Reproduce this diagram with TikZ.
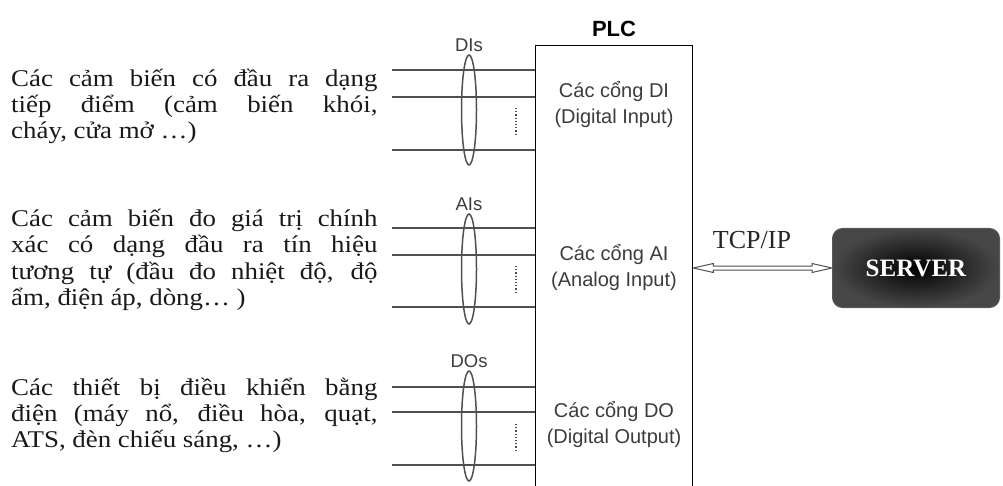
\documentclass[tikz,border=0pt]{standalone}
\usepackage{fontspec}
\setmainfont{Liberation Serif}
\setsansfont{Liberation Sans}
\usetikzlibrary{positioning,shapes.geometric,calc}

\definecolor{wiregray}{HTML}{505050}
\definecolor{portgray}{HTML}{3C3C3C}
\newcommand{\descfont}{\fontsize{24}{26}\selectfont\hyphenpenalty=10000 }

\begin{document}
\begin{tikzpicture}[x=1pt,y=-1pt,
  busline/.style={draw=wiregray, line width=1.6pt},
  bundle/.style={draw=wiregray, line width=1.5pt, ellipse, minimum width=15pt, minimum height=110pt, inner sep=0pt},
  buslabel/.style={font=\sffamily\fontsize{18.5}{19}\selectfont, text=portgray, inner sep=1pt},
  porttxt/.style={font=\sffamily\fontsize{20}{26}\selectfont, text=portgray, align=center},
  desc/.style={font=\descfont, text=black!90, text width=327pt, align=justify, inner sep=0pt, anchor=base west,
    xscale=1.12, transform shape}]
\useasboundingbox (0,0) rectangle (1003,486);
% PLC
\node[draw, line width=1.3pt, minimum width=157pt, minimum height=455pt, anchor=north west, inner sep=0pt] (plc) at (535,45) {};
\node[font=\sffamily\bfseries\fontsize{22}{24}\selectfont] (plctitle) at (614,29) {PLC};
% inputs DI
\node[bundle] (dib) at (469,110) {};
\node[buslabel, above=1pt of dib] (dil) {DIs};
\coordinate (di1) at (392,70);
\coordinate (di2) at (392,97);
\coordinate (di3) at (392,150);
\draw[busline] (di1) -- (di1 -| plc.west);
\draw[busline] (di2) -- (di2 -| plc.west);
\draw[busline] (di3) -- (di3 -| plc.west);
\draw[wiregray, dotted, line width=1.2pt] (516,108) -- (516,135);
\node[porttxt] (dip) at (614,105) {Các cổng DI\\(Digital Input)};
% inputs AI
\node[bundle] (aib) at (469,269) {};
\node[buslabel, above=1pt of aib] (ail) {AIs};
\coordinate (ai1) at (392,228);
\coordinate (ai2) at (392,255);
\coordinate (ai3) at (392,307);
\draw[busline] (ai1) -- (ai1 -| plc.west);
\draw[busline] (ai2) -- (ai2 -| plc.west);
\draw[busline] (ai3) -- (ai3 -| plc.west);
\draw[wiregray, dotted, line width=1.2pt] (516,266) -- (516,293);
\node[porttxt] (aip) at (614,268) {Các cổng AI\\(Analog Input)};
% outputs DO
\node[bundle] (dob) at (469,426) {};
\node[buslabel, above=1pt of dob] (dol) {DOs};
\coordinate (do1) at (392,387);
\coordinate (do2) at (392,412);
\coordinate (do3) at (392,465);
\draw[busline] (do1) -- (do1 -| plc.west);
\draw[busline] (do2) -- (do2 -| plc.west);
\draw[busline] (do3) -- (do3 -| plc.west);
\draw[wiregray, dotted, line width=1.2pt] (516,424) -- (516,451);
\node[porttxt] (dop) at (614,425) {Các cổng DO\\(Digital Output)};
% descriptions
\node[desc] (sens1) at (11,87) {Các cảm biến có đầu ra dạng\linebreak tiếp điểm (cảm biến khói,\linebreak cháy, cửa mở …)};
\node[desc] (sens2) at (11,227) {Các cảm biến đo giá trị chính\linebreak xác có dạng đầu ra tín hiệu\linebreak tương tự (đầu đo nhiệt độ, độ\linebreak ẩm, điện áp, dòng… )};
\node[desc] (act) at (11,395) {Các thiết bị điều khiển bằng\linebreak điện (máy nổ, điều hòa, quạt,\linebreak ATS, đèn chiếu sáng, …)};
% server
\node[draw=black!65, line width=1pt, rounded corners=10pt, inner color=black, outer color=black!72,
  minimum width=167pt, minimum height=79pt, text=white, font=\bfseries\fontsize{25}{26}\selectfont] (srv) at (916,268) {SERVER};
\node[font=\fontsize{26}{27}\selectfont, text=black!85] (tcp) at (752,240) {TCP/IP};
\coordinate (tcpl) at (srv.west -| plc.east);
\draw[wiregray, line width=1pt, fill=white] (tcpl) -- ++(20,-4.5) -- ++(0,2.5) -- ($(srv.west)+(-20,-2)$) -- ++(0,-2.5)
  -- (srv.west) -- ++(-20,4.5) -- ++(0,-2.5) -- ($(tcpl)+(20,2)$) -- ++(0,2.5) -- cycle;
\end{tikzpicture}
\end{document}
